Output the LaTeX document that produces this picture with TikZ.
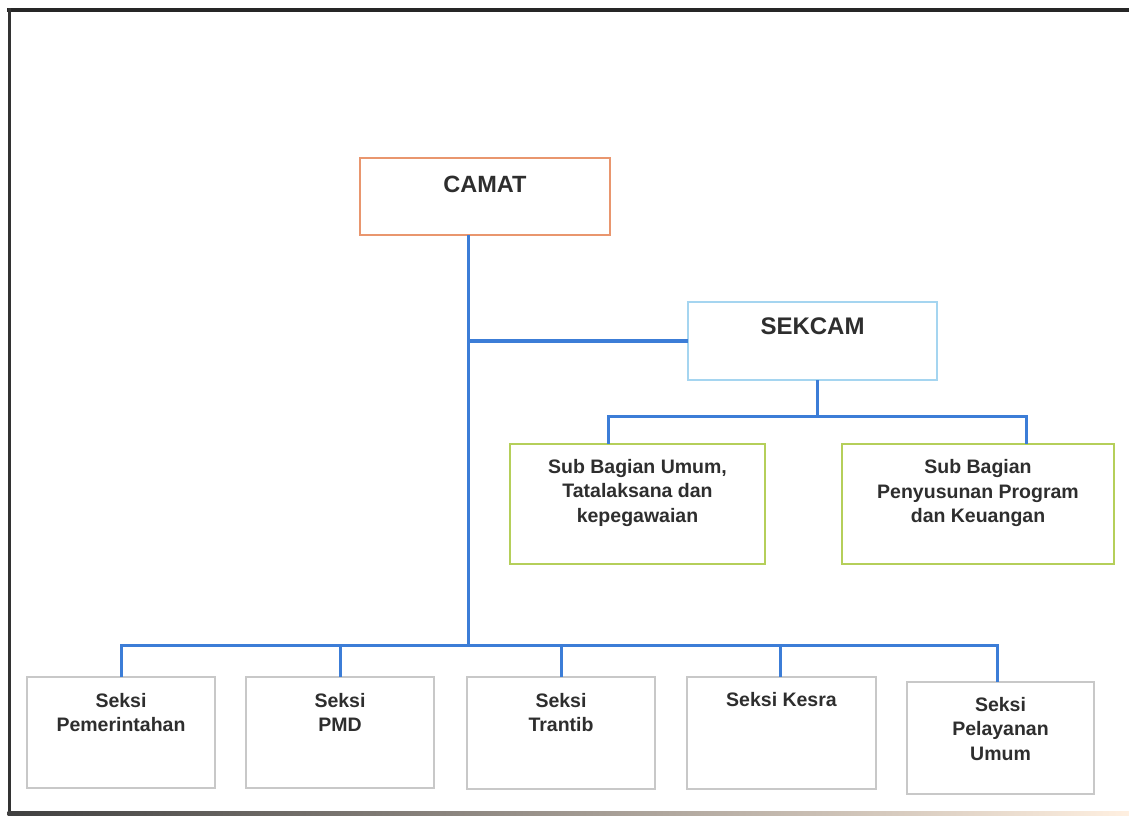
\documentclass[tikz,border=0pt]{standalone}
\usepackage{fontspec}
\setmainfont{Liberation Sans}
\definecolor{conn}{HTML}{3C7DD7}
\definecolor{camatc}{HTML}{E9966E}
\definecolor{sekc}{HTML}{A5D5F0}
\definecolor{subc}{HTML}{B5CF5A}
\definecolor{seksic}{HTML}{C8C8C8}
\definecolor{txt}{HTML}{2E2E2E}
\newcommand{\boxtxt}[5]{\begin{minipage}[t][#2][t]{#1}\centering\fontsize{#4}{24.5pt}\selectfont\bfseries\vspace*{\dimexpr#3-20pt\relax}\rule{0pt}{20pt}#5\end{minipage}}
\tikzset{
  orgbox/.style={draw, rectangle, inner sep=0pt, outer sep=0pt, fill=white, text=txt},
  camatbox/.style={orgbox, draw=camatc, line width=2pt},
  sekbox/.style={orgbox, draw=sekc, line width=1.6pt},
  subbox/.style={orgbox, draw=subc, line width=2.4pt},
  seksibox/.style={orgbox, draw=seksic, line width=1.6pt},
  link/.style={draw=conn, line width=3pt},
  framedark/.style={draw=black!85, line width=4pt}
}
\begin{document}
\begin{tikzpicture}[x=1pt,y=-1pt]
\fill[white] (0,0) rectangle (1129,815);
\useasboundingbox (0,0) rectangle (1129,815);
% frame
\draw[framedark] (7,10) -- (1129,10);
\draw[draw=black!80, line width=3pt] (9,8) -- (9,813);
\shade[left color=black!75, right color=orange!12] (7.5,811) rectangle (1129,815);

% boxes
\node[camatbox] (camat) at (485,196.5) {\boxtxt{250pt}{77pt}{34pt}{23.5pt}{CAMAT}};
\node[sekbox] (sekcam) at (812.5,341) {\boxtxt{249pt}{78pt}{32pt}{24pt}{SEKCAM}};
\node[subbox] (subum) at (637.5,504) {\boxtxt{255pt}{120pt}{29pt}{19.5pt}{Sub Bagian Umum,\\Tatalaksana dan\\kepegawaian}};
\node[subbox] (subprog) at (978,504) {\boxtxt{272pt}{120pt}{29.5pt}{19.5pt}{Sub Bagian\\Penyusunan Program\\dan Keuangan}};
\node[seksibox] (s1) at (121,732.5) {\boxtxt{188pt}{111pt}{30pt}{19.5pt}{Seksi\\Pemerintahan}};
\node[seksibox] (s2) at (340,732.5) {\boxtxt{188pt}{111pt}{30pt}{19.5pt}{Seksi\\PMD}};
\node[seksibox] (s3) at (561,733) {\boxtxt{188pt}{112pt}{30pt}{19.5pt}{Seksi\\Trantib}};
\node[seksibox] (s4) at (781.5,733) {\boxtxt{189pt}{112pt}{29pt}{19.5pt}{Seksi Kesra}};
\node[seksibox] (s5) at (1000.5,738) {\boxtxt{187pt}{112pt}{29pt}{19.5pt}{Seksi\\Pelayanan\\Umum}};

% junction coordinates
\coordinate (trunk) at (468,645);
\coordinate (subbus) at (817,416);

% connectors
\draw[link] (camat.south -| trunk) -- (trunk);
\draw[link, line width=4pt] (sekcam.west -| trunk) -- (sekcam.west);
\draw[link] (sekcam.south -| subbus) -- (subbus);
\draw[link] ([xshift=-29.5pt]subum.north) |- (subbus) -| ([xshift=48pt]subprog.north);
\draw[link] (s1.north) |- (trunk) -| ([xshift=-3.5pt]s5.north);
\draw[link] (s2.north) -- (s2.north |- trunk);
\draw[link] (s3.north) -- (s3.north |- trunk);
\draw[link] ([xshift=-1.5pt]s4.north) -- ([xshift=-1.5pt]s4.north |- trunk);
\end{tikzpicture}
\end{document}
